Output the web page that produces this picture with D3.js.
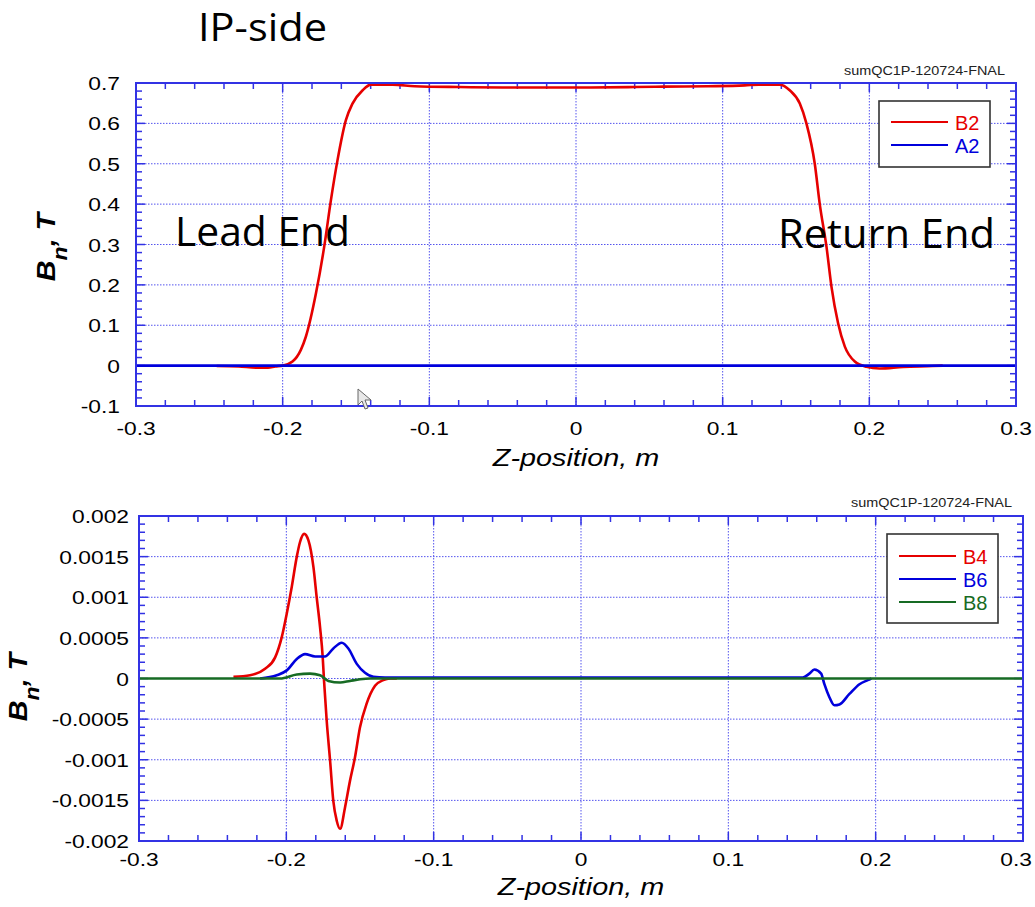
<!DOCTYPE html>
<html>
<head>
<meta charset="utf-8">
<script src="https://cdn.jsdelivr.net/npm/d3@7"></script>
<style>
  html, body { margin: 0; padding: 0; background: #fff; }
  svg { display: block; }
</style>
</head>
<body>
<svg id="chart" width="1035" height="907"></svg>
<script>
// ---- Data: field harmonics along the magnet axis (z in metres, field in tesla) ----

// Upper panel: main quadrupole term B2 and skew term A2
const b2Z = [-0.245, -0.23, -0.218, -0.21, -0.205, -0.2, -0.1933, -0.1876, -0.1842, -0.1773,
             -0.1717, -0.1671, -0.1626, -0.1569, -0.1524, -0.1455, -0.1398, -0.125, -0.11, -0.08,
             -0.05, -0.02, 0.01, 0.04, 0.06, 0.09, 0.115, 0.125, 0.1389, 0.1457,
             0.1526, 0.1571, 0.1628, 0.1662, 0.1708, 0.1742, 0.1787, 0.1833, 0.1901, 0.198,
             0.207, 0.223, 0.243, 0.25];
const b2Val = [-0.001, -0.002, -0.005, -0.005, -0.002, 0.0, 0.01, 0.039, 0.0715, 0.179,
               0.294, 0.41, 0.509, 0.608, 0.649, 0.682, 0.696, 0.696, 0.692, 0.690,
               0.689, 0.689, 0.689, 0.690, 0.691, 0.692, 0.694, 0.696, 0.696, 0.682,
               0.649, 0.600, 0.500, 0.400, 0.294, 0.195, 0.105, 0.047, 0.010, -0.003,
               -0.007, -0.003, -0.001, 0.0];
const a2Z = [-0.3, -0.2, -0.1, 0.0, 0.1, 0.2, 0.3];
const a2Val = [0, 0, 0, 0, 0, 0, 0];

// Lower panel: higher harmonics B4, B6, B8
const b4Z = [-0.2359, -0.2246, -0.2144, -0.2076, -0.2031, -0.1997, -0.1963, -0.1929, -0.1907, -0.1879,
             -0.185, -0.1816, -0.1794, -0.1771, -0.1753, -0.1744, -0.1726, -0.1703, -0.1681, -0.1658,
             -0.1635, -0.1602, -0.1568, -0.1534, -0.15, -0.1455, -0.1398, -0.1342, -0.1296, -0.125];
const b4Val = [0.00002, 0.00004, 0.00012, 0.00026, 0.00051, 0.0008, 0.00113, 0.0015, 0.00168, 0.00178,
               0.0017, 0.00137, 0.001, 0.00063, 0.00026, -0.00003, -0.00052, -0.00101, -0.00151, -0.00175,
               -0.00185, -0.00159, -0.00126, -0.00097, -0.0006, -0.00031, -0.00009, -0.00002, 0.0, 0.0];
const b6Z = [-0.2178, -0.2065, -0.1997, -0.1929, -0.1873, -0.1805, -0.1738, -0.1681, -0.1624, -0.1579,
             -0.1522, -0.1466, -0.1409, -0.133, 0.0, 0.1505, 0.155, 0.1584, 0.163, 0.1652,
             0.1686, 0.172, 0.1754, 0.1822, 0.189, 0.1946, 0.1971];
const b6Val = [0.0, 0.00004, 0.0001, 0.00024, 0.0003, 0.00027, 0.00027, 0.00037, 0.00044, 0.00037,
               0.00018, 0.00007, 0.00002, 0.000012, 0.000012, 0.000012, 0.00006, 0.00011, 0.00006, -0.00007,
               -0.00023, -0.00033, -0.00032, -0.00019, -0.00007, -0.00002, 0.0];
const b8Z = [-0.3, -0.2042, -0.1929, -0.1839, -0.1771, -0.1715, -0.1635, -0.1568, -0.15, -0.1432, 0.0, 0.3];
const b8Val = [0.0, 0.0, 0.00005, 0.00006, 0.00004, -0.00003, -0.00005, -0.00003, -0.00001, 0.0, 0.0, 0.0];

// Axis ticks and labels
const xTickValues = [-0.3, -0.2, -0.1, 0, 0.1, 0.2, 0.3];
const xTickLabels = ["-0.3", "-0.2", "-0.1", "0", "0.1", "0.2", "0.3"];
const topYTickValues = [-0.1, 0, 0.1, 0.2, 0.3, 0.4, 0.5, 0.6, 0.7];
const topYTickLabels = ["-0.1", "0", "0.1", "0.2", "0.3", "0.4", "0.5", "0.6", "0.7"];
const botYTickValues = [-0.002, -0.0015, -0.001, -0.0005, 0, 0.0005, 0.001, 0.0015, 0.002];
const botYTickLabels = ["-0.002", "-0.0015", "-0.001", "-0.0005", "0", "0.0005", "0.001", "0.0015", "0.002"];

// Series names
const topSeriesNames = ["B2", "A2"];
const botSeriesNames = ["B4", "B6", "B8"];

// ---- Styling ----
const RED = "#e60000", BLUE = "#0000dc", GREEN = "#176b24";
const FRAME = "#3232e4", GRID = "#5454ee";
const SANS = "'Liberation Sans', Arial, Helvetica, sans-serif";
const TITLE_FONT = "'Open Sans', 'Noto Sans', sans-serif";
const PAGE_W = 1035;

const svg = d3.select("#chart");

// Text helper with horizontal stretch along the baseline
function stretchedText(g, x, y, str, opts) {
  const sx = opts.stretch || 1;
  const t = g.append("text")
    .attr("transform", `translate(${x},${y}) scale(${sx},1)`)
    .attr("font-family", opts.family || SANS)
    .attr("font-size", opts.size)
    .attr("fill", opts.fill || "#000")
    .attr("text-anchor", opts.anchor || "start");
  if (opts.style) t.attr("font-style", opts.style);
  t.text(str);
  return t;
}

function drawPanel(cfg) {
  const x = d3.scaleLinear().domain([-0.3, 0.3]).range([cfg.left, cfg.right]);
  const y = d3.scaleLinear().domain(cfg.yDomain).range([cfg.bottom, cfg.top]);
  const g = svg.append("g");

  // Dotted grid at the major ticks
  const grid = g.append("g").attr("stroke", GRID).attr("stroke-width", 1)
    .attr("stroke-dasharray", "1.5,1.5");
  xTickValues.slice(1, -1).forEach(v => {
    grid.append("line").attr("x1", x(v)).attr("x2", x(v)).attr("y1", cfg.top).attr("y2", cfg.bottom);
  });
  cfg.yTicks.slice(1, -1).forEach(v => {
    grid.append("line").attr("x1", cfg.left).attr("x2", cfg.right).attr("y1", y(v)).attr("y2", y(v));
  });

  // Inward tick marks on all four sides
  const ticks = g.append("g").attr("stroke", FRAME).attr("stroke-width", 1.5);
  const xMinor = d3.range(-0.3, 0.30001, 0.02);
  xMinor.forEach((v, i) => {
    const len = (i % 5 === 0) ? 9 : 6;
    ticks.append("line").attr("x1", x(v)).attr("x2", x(v)).attr("y1", cfg.top).attr("y2", cfg.top + len);
    ticks.append("line").attr("x1", x(v)).attr("x2", x(v)).attr("y1", cfg.bottom).attr("y2", cfg.bottom - len);
  });
  const [y0, y1] = cfg.yDomain;
  const nMinor = Math.round((y1 - y0) / cfg.yMinor);
  for (let i = 0; i <= nMinor; i++) {
    const v = y0 + i * cfg.yMinor;
    const len = (i % 5 === 0) ? 9 : 6;
    ticks.append("line").attr("x1", cfg.left).attr("x2", cfg.left + len).attr("y1", y(v)).attr("y2", y(v));
    ticks.append("line").attr("x1", cfg.right).attr("x2", cfg.right - len).attr("y1", y(v)).attr("y2", y(v));
  }

  // Tick labels (the last x label is kept inside the page)
  xTickValues.forEach((v, i) => {
    const t = stretchedText(g, x(v), cfg.xLabelBaseline, xTickLabels[i], { size: 19, anchor: "middle", stretch: 1.2 });
    const half = t.node().getComputedTextLength() * 1.2 / 2;
    const cx = Math.min(x(v), PAGE_W - 3 - half);
    t.attr("transform", `translate(${cx},${cfg.xLabelBaseline}) scale(1.2,1)`);
  });
  cfg.yTicks.forEach((v, i) => {
    stretchedText(g, cfg.yLabelRight, y(v) + 7, cfg.yLabels[i], { size: 19, anchor: "end", stretch: 1.2 });
  });

  // Series lines, clipped to the plotting area
  const clipId = "clip-" + cfg.id;
  svg.append("clipPath").attr("id", clipId).append("rect")
    .attr("x", cfg.left).attr("y", cfg.top)
    .attr("width", cfg.right - cfg.left).attr("height", cfg.bottom - cfg.top);
  const lines = g.append("g").attr("clip-path", `url(#${clipId})`);
  const line = d3.line().x(d => x(d[0])).y(d => y(d[1])).curve(d3.curveMonotoneX);
  cfg.series.forEach(s => {
    lines.append("path")
      .datum(d3.zip(s.z, s.v))
      .attr("d", line)
      .attr("fill", "none")
      .attr("stroke", s.color)
      .attr("stroke-width", 2.6)
      .attr("stroke-linejoin", "round");
  });

  // Plot frame
  g.append("rect")
    .attr("x", cfg.left).attr("y", cfg.top)
    .attr("width", cfg.right - cfg.left).attr("height", cfg.bottom - cfg.top)
    .attr("fill", "none").attr("stroke", FRAME).attr("stroke-width", 2);

  // File tag above the frame
  g.append("text")
    .attr("x", cfg.tagRight).attr("y", cfg.tagBaseline)
    .attr("text-anchor", "end")
    .attr("font-family", SANS).attr("font-size", 13)
    .attr("fill", "#222")
    .attr("textLength", 161).attr("lengthAdjust", "spacingAndGlyphs")
    .text("sumQC1P-120724-FNAL");

  // Legend
  const L = cfg.legend;
  g.append("rect").attr("x", L.x).attr("y", L.y).attr("width", L.w).attr("height", L.h)
    .attr("fill", "#fff").attr("stroke", "#333").attr("stroke-width", 1.6);
  cfg.series.forEach((s, i) => {
    const ly = L.firstRow + i * L.rowStep;
    g.append("line").attr("x1", L.x + 12).attr("x2", L.x + 69).attr("y1", ly).attr("y2", ly)
      .attr("stroke", s.color).attr("stroke-width", 2.2);
    g.append("text").attr("x", L.x + 76).attr("y", ly + 8)
      .attr("font-family", SANS).attr("font-size", 20).attr("fill", s.color)
      .text(s.name);
  });

  // Axis titles
  stretchedText(g, (cfg.left + cfg.right) / 2, cfg.xTitleBaseline, "Z-position, m",
    { size: 24, anchor: "middle", stretch: 1.2, style: "italic" });
  const yt = g.append("text")
    .attr("transform", `translate(${cfg.yTitleX},${cfg.yTitleY}) rotate(-90) scale(1.15,1)`)
    .attr("font-family", SANS).attr("font-size", 25)
    .attr("font-weight", "bold").attr("font-style", "italic")
    .attr("text-anchor", "middle");
  yt.append("tspan").text("B");
  yt.append("tspan").attr("font-size", 20).attr("dy", 12).text("n");
  yt.append("tspan").attr("dy", -12).text(", T");

  return { x, y, g };
}

// ---- Upper panel ----
const upperPanel = drawPanel({
  id: "upper",
  left: 136, right: 1016, top: 83, bottom: 406,
  yDomain: [-0.1, 0.7], yMinor: 0.02,
  yTicks: topYTickValues, yLabels: topYTickLabels,
  yLabelRight: 120, xLabelBaseline: 435, xTitleBaseline: 466,
  yTitleX: 55, yTitleY: 247,
  tagRight: 1005, tagBaseline: 75,
  legend: { x: 879, y: 101, w: 111, h: 66, firstRow: 122, rowStep: 23 },
  series: [
    { name: topSeriesNames[0], z: b2Z, v: b2Val, color: RED },
    { name: topSeriesNames[1], z: a2Z, v: a2Val, color: BLUE }
  ]
});

// ---- Lower panel ----
const lowerPanel = drawPanel({
  id: "lower",
  left: 139, right: 1023, top: 516, bottom: 841,
  yDomain: [-0.002, 0.002], yMinor: 0.0001,
  yTicks: botYTickValues, yLabels: botYTickLabels,
  yLabelRight: 129, xLabelBaseline: 866, xTitleBaseline: 895,
  yTitleX: 27, yTitleY: 687,
  tagRight: 1012, tagBaseline: 507,
  legend: { x: 887, y: 534, w: 111, h: 89, firstRow: 556, rowStep: 23 },
  series: [
    { name: botSeriesNames[0], z: b4Z, v: b4Val, color: RED },
    { name: botSeriesNames[1], z: b6Z, v: b6Val, color: BLUE },
    { name: botSeriesNames[2], z: b8Z, v: b8Val, color: GREEN }
  ]
});

// ---- Slide annotations ----
svg.append("text").attr("x", 198).attr("y", 41)
  .attr("font-family", TITLE_FONT).attr("font-size", 38)
  .attr("textLength", 129).attr("lengthAdjust", "spacingAndGlyphs").text("IP-side");
svg.append("text").attr("x", 175).attr("y", 246)
  .attr("font-family", TITLE_FONT).attr("font-size", 40)
  .attr("textLength", 175).attr("lengthAdjust", "spacingAndGlyphs").text("Lead End");
svg.append("text").attr("x", 778).attr("y", 248)
  .attr("font-family", TITLE_FONT).attr("font-size", 40)
  .attr("textLength", 217).attr("lengthAdjust", "spacingAndGlyphs").text("Return End");

// Mouse pointer left on the slide
svg.append("path")
  .attr("d", "M358,389 L358,405 L362,401 L365,409 L368,408 L365,400 L371,400 Z")
  .attr("fill", "#e8e8e8").attr("stroke", "#666").attr("stroke-width", 1)
  .attr("stroke-linejoin", "round");
</script>
</body>
</html>
